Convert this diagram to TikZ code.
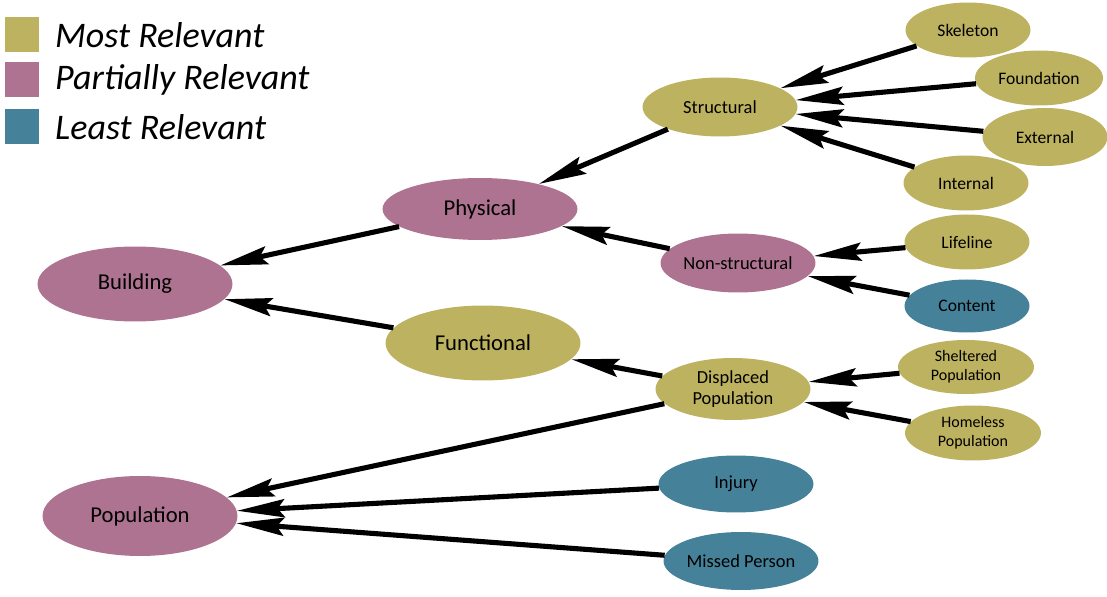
\documentclass[tikz,border=0pt]{standalone}
\usepackage{fontspec}
\setmainfont{Carlito}
\usetikzlibrary{positioning, arrows.meta, shapes}
\usepackage{xcolor}

\definecolor{mostrel}{HTML}{BDB25F}
\definecolor{partrel}{HTML}{AD7390}
\definecolor{leastrel}{HTML}{46819A}

\begin{document}
\begin{tikzpicture}[x=0.02cm, y=-0.02cm,
    item/.style={ellipse, inner sep=0pt, align=center},
    big/.style={item, minimum width=3.9cm, minimum height=1.5cm, font=\fontsize{12.9}{14}\selectfont},
    mid/.style={item, minimum width=3.1cm, minimum height=1.18cm, font=\fontsize{10.5}{12}\selectfont},
    leaf/.style={item, minimum width=2.5cm, minimum height=1.1cm, font=\fontsize{10}{11.5}\selectfont},
    small/.style={item, minimum width=2.72cm, minimum height=1.08cm, font=\fontsize{9.1}{10.6}\selectfont},
    key/.style={rectangle, inner sep=0pt, minimum size=0.7cm},
    keytext/.style={inner sep=0pt, anchor=west, font=\fontsize{20.5}{22}\selectfont\itshape},
    arrow/.style={line width=2.9pt, -{Stealth[length=0.95cm, width=0.36cm, inset=0.14cm]}}]

    \useasboundingbox (0,0) rectangle (1107,597);

    % Legend
    \node[key, fill=mostrel] (kmost) at (22,35) {};
    \node[key, fill=partrel] (kpart) at (22,80) {};
    \node[key, fill=leastrel] (kleast) at (22,127) {};
    \node[keytext, right=0.3cm of kmost] (tmost) {Most Relevant};
    \node[keytext, right=0.3cm of kpart] (tpart) {Partially Relevant};
    \node[keytext, right=0.3cm of kleast] (tleast) {Least Relevant};

    % Roots
    \node[big, fill=partrel] (building) at (135,284) {Building};
    \node[big, fill=partrel, minimum height=1.6cm] (population) at (140,516) {Population};

    % Second level
    \node[big, fill=partrel, minimum height=1.24cm] (physical) at (480,209) {Physical};
    \node[big, fill=mostrel] (functional) at (483,343) {Functional};

    % Third level
    \node[mid, fill=mostrel] (structural) at (720,107) {Structural};
    \node[mid, fill=partrel] (nonstruct) at (738,263) {Non-structural};
    \node[mid, fill=mostrel, minimum height=1.24cm] (displaced) at (733,389) {Displaced\\Population};
    \node[mid, fill=leastrel, minimum height=1.14cm] (injury) at (736,484) {Injury};
    \node[mid, fill=leastrel, minimum height=1.16cm] (missed) at (741,561) {Missed Person};

    % Leaves
    \node[leaf, fill=mostrel] (skeleton) at (968,30) {Skeleton};
    \node[leaf, fill=mostrel, minimum width=2.56cm] (foundation) at (1039,78) {Foundation};
    \node[leaf, fill=mostrel, minimum height=1.16cm] (external) at (1045,137) {External};
    \node[leaf, fill=mostrel] (internal) at (966,183) {Internal};
    \node[leaf, fill=mostrel] (lifeline) at (967,242) {Lifeline};
    \node[leaf, fill=leastrel, minimum height=1.06cm] (content) at (967,306) {Content};
    \node[small, fill=mostrel] (sheltered) at (966,367) {Sheltered\\Population};
    \node[small, fill=mostrel, minimum height=1.1cm] (homeless) at (973,433) {Homeless\\Population};

    % Arrows
    \draw[arrow] (skeleton) -- (structural);
    \draw[arrow] (foundation) -- (structural);
    \draw[arrow] (external) -- (structural);
    \draw[arrow] (internal) -- (structural);
    \draw[arrow] (lifeline) -- (nonstruct);
    \draw[arrow] (content) -- (nonstruct);
    \draw[arrow] (sheltered) -- (displaced);
    \draw[arrow] (homeless) -- (displaced);
    \draw[arrow] (structural) -- (physical);
    \draw[arrow] (nonstruct) -- (physical);
    \draw[arrow] (displaced) -- (functional);
    \draw[arrow] (physical) -- (building);
    \draw[arrow] (functional) -- (building);
    \draw[arrow] (displaced) -- (population);
    \draw[arrow] (injury) -- (population);
    \draw[arrow] (missed) -- (population);
  \end{tikzpicture}
\end{document}
